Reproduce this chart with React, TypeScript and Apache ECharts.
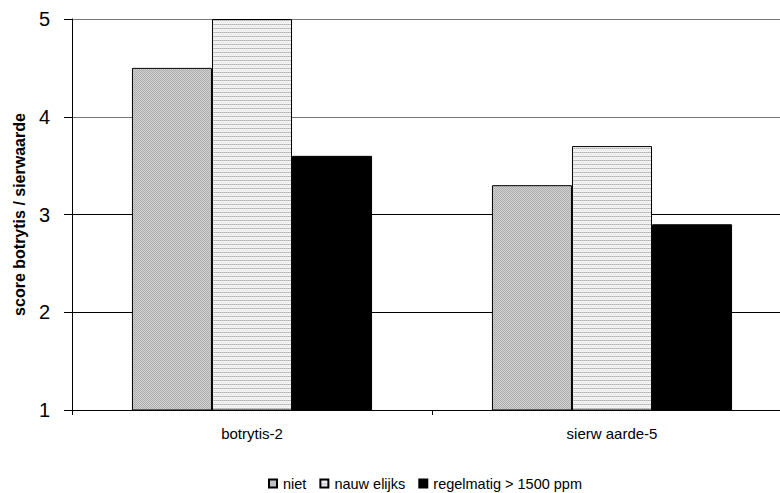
import React, { useEffect, useRef } from "react";
import * as echarts from "echarts";

const categories = ["botrytis-2", "sierw aarde-5"];
const seriesNames = ["niet", "nauw elijks", "regelmatig > 1500 ppm"];
const niet = [4.5, 3.3];
const nauwelijks = [5.0, 3.7];
const regelmatig = [3.6, 2.9];
const yTicks = [1, 2, 3, 4, 5];

function makeDots(): HTMLCanvasElement {
  const c = document.createElement("canvas");
  c.width = 2;
  c.height = 2;
  const ctx = c.getContext("2d")!;
  ctx.fillStyle = "#d2d2d2";
  ctx.fillRect(0, 0, 2, 2);
  ctx.fillStyle = "#adadad";
  ctx.fillRect(0, 0, 1, 1);
  ctx.fillRect(1, 1, 1, 1);
  return c;
}

function makeHoriz(): HTMLCanvasElement {
  const c = document.createElement("canvas");
  c.width = 2;
  c.height = 4;
  const ctx = c.getContext("2d")!;
  ctx.fillStyle = "#f4f4f4";
  ctx.fillRect(0, 0, 2, 4);
  ctx.fillStyle = "#b2b2b2";
  ctx.fillRect(0, 0, 1, 1);
  ctx.fillStyle = "#c8c8c8";
  ctx.fillRect(1, 0, 1, 1);
  ctx.fillStyle = "#e2e2e2";
  ctx.fillRect(1, 2, 1, 1);
  return c;
}

export default function App() {
  const ref = useRef<HTMLDivElement>(null);
  useEffect(() => {
    if (!ref.current) return;
    const chart = echarts.init(ref.current, null, { renderer: "svg" });
    const dots = { image: makeDots(), repeat: "repeat" };
    const horiz = { image: makeHoriz(), repeat: "repeat" };
    const font = "Liberation Sans, Arial, sans-serif";
    chart.setOption({
      animation: false,
      backgroundColor: "#fff",
      textStyle: { fontFamily: font },
      grid: { left: 72, top: 19, width: 720, height: 391 },
      legend: {
        left: 268,
        top: 476,
        padding: 0,
        itemWidth: 8,
        itemHeight: 8,
        itemGap: 13,
        icon: "rect",
        textStyle: { fontSize: 14.5, color: "#000", fontFamily: font, padding: [0, 0, 0, 1] },
        data: seriesNames,
      },
      xAxis: {
        type: "category",
        data: categories,
        axisLine: { lineStyle: { color: "#000", width: 1 } },
        axisTick: { show: true, length: 5, lineStyle: { color: "#000" } },
        axisLabel: { fontSize: 15, color: "#000", margin: 16, fontFamily: font },
      },
      yAxis: {
        type: "value",
        min: yTicks[0],
        max: yTicks[yTicks.length - 1],
        interval: 1,
        name: "score botrytis / sierwaarde",
        nameLocation: "middle",
        nameGap: 44,
        nameTextStyle: { fontSize: 16, fontWeight: "bold", color: "#000", fontFamily: font },
        axisLine: { show: true, lineStyle: { color: "#000", width: 1 } },
        axisTick: { show: true, length: 8, lineStyle: { color: "#000" } },
        axisLabel: { fontSize: 20, color: "#000", margin: 22, fontFamily: font },
        splitLine: {
          show: true,
          lineStyle: { color: ["#000", "#000", "#000", "#777", "#777"], width: 1 },
        },
      },
      series: [
        {
          name: seriesNames[0],
          type: "bar",
          data: niet,
          barGap: "0%",
          barCategoryGap: "33.3%",
          itemStyle: { color: dots, borderColor: "#000", borderWidth: 1 },
        },
        {
          name: seriesNames[1],
          type: "bar",
          data: nauwelijks,
          itemStyle: { color: horiz, borderColor: "#000", borderWidth: 1 },
        },
        {
          name: seriesNames[2],
          type: "bar",
          data: regelmatig,
          itemStyle: { color: "#000", borderColor: "#000", borderWidth: 1 },
        },
      ],
    });
    return () => chart.dispose();
  }, []);
  return (
    <div
      style={{
        position: "fixed",
        left: 0,
        top: 0,
        width: 780,
        height: 493,
        overflow: "hidden",
        background: "#fff",
      }}
    >
      <div ref={ref} style={{ width: 800, height: 493 }} />
    </div>
  );
}
